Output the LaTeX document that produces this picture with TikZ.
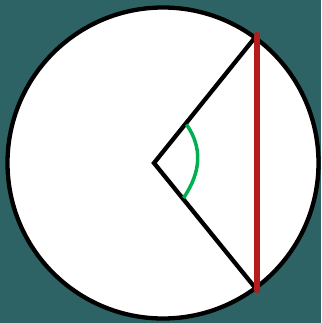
\documentclass[tikz,border=0pt]{standalone}
\definecolor{bgteal}{HTML}{2D6364}
\definecolor{chordred}{HTML}{B51C1C}
\definecolor{anglegreen}{HTML}{00B050}
\tikzset{
  ray/.style={line width=4.3pt, black, line join=miter},
  chord/.style={line width=6pt, chordred, line cap=round},
  anglemark/.style={line width=3.5pt, anglegreen}
}
\begin{document}
\begin{tikzpicture}[x=1pt,y=-1pt]
  \fill[bgteal] (0,0) rectangle (321,323);
  \useasboundingbox (0,0) rectangle (321,323);
  \coordinate (O) at (163,163);
  \coordinate (V) at (154,163);
  \coordinate (A) at (257,35);
  \coordinate (B) at (257,290);
  \coordinate (G1) at (186.5,124.5);
  \coordinate (G2) at (183.5,198);
  \coordinate (GC1) at (202.4,147.3);
  \coordinate (GC2) at (201.4,171.8);
  \filldraw[fill=white, draw=black, line width=4.3pt] (O) circle[radius=155.5];
  \draw[ray] (A) -- (V) -- (B);
  \draw[anglemark] (G1) .. controls (GC1) and (GC2) .. (G2);
  \draw[chord] (A) -- (B);
\end{tikzpicture}
\end{document}
